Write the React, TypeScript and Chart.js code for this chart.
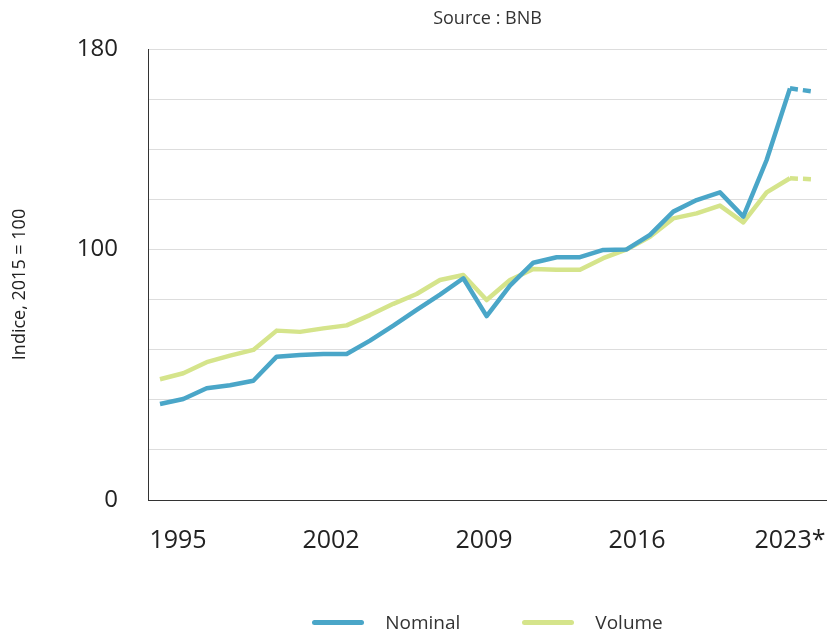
import React, { useEffect, useRef } from "react";
import { Chart, registerables } from "chart.js";

Chart.register(...registerables);

const years = [
  1995, 1996, 1997, 1998, 1999, 2000, 2001, 2002, 2003, 2004,
  2005, 2006, 2007, 2008, 2009, 2010, 2011, 2012, 2013, 2014,
  2015, 2016, 2017, 2018, 2019, 2020, 2021, 2022, 2023,
];
const nominal = [
  38.3, 40.3, 44.6, 45.8, 47.6, 57.2, 57.9, 58.3, 58.3, 63.6,
  69.6, 75.9, 82.0, 88.5, 73.4, 85.6, 94.7, 96.9, 96.9, 99.8,
  100.0, 105.8, 115.1, 119.7, 122.8, 113.1, 135.7, 164.3, 163.0,
];
const volume = [
  48.2, 50.6, 55.0, 57.6, 59.9, 67.6, 67.1, 68.5, 69.7, 73.8,
  78.3, 82.2, 87.8, 89.8, 79.8, 87.8, 92.2, 91.9, 91.9, 96.5,
  100.0, 105.1, 112.4, 114.4, 117.5, 110.8, 122.8, 128.4, 128.0,
];
const seriesNames = ["Nominal", "Volume"];
const seriesColors = ["#4AA6C8", "#D5E48B"];
const xTickLabels = ["1995", "2002", "2009", "2016", "2023*"];
const yTickLabels = [0, 100, 180];
const yGridValues = [0, 20, 40, 60, 80, 100, 120, 140, 160, 180];
const titleText = "Source : BNB";
const yTitle = "Indice, 2015 = 100";

const FONT = "'Open Sans', 'Noto Sans', sans-serif";

const yTitlePlugin = {
  id: "yTitlePlugin",
  afterDraw(chart: any) {
    const { ctx, chartArea } = chart;
    ctx.save();
    ctx.translate(20, (chartArea.top + chartArea.bottom) / 2 + 10);
    ctx.rotate(-Math.PI / 2);
    ctx.textAlign = "center";
    ctx.textBaseline = "middle";
    ctx.fillStyle = "#222";
    ctx.font = `18px ${FONT}`;
    ctx.fillText(yTitle, 0, 0);
    ctx.restore();
  },
};

export default function App() {
  const ref = useRef<HTMLCanvasElement | null>(null);

  useEffect(() => {
    if (!ref.current) return;
    const lastIdx = years.length - 1;
    const dash = (ctx: any) => (ctx.p1DataIndex === lastIdx ? [8, 5] : undefined);
    const series = [nominal, volume];
    const chart = new Chart(ref.current, {
      type: "line",
      data: {
        datasets: series.map((vals, si) => ({
          label: seriesNames[si],
          data: years.map((yr, i) => ({ x: yr, y: vals[i] })),
          borderColor: seriesColors[si],
          backgroundColor: seriesColors[si],
          borderWidth: 4.5,
          pointRadius: 0,
          tension: 0,
          fill: false,
          borderJoinStyle: "round" as const,
          segment: { borderDash: dash },
          order: si === 0 ? 0 : 1,
        })),
      },
      plugins: [yTitlePlugin],
      options: {
        animation: false,
        responsive: false,
        maintainAspectRatio: false,
        layout: { padding: 0 },
        plugins: {
          legend: { display: false },
          tooltip: { enabled: false },
          title: {
            display: true,
            text: titleText,
            fullSize: false,
            color: "#333",
            font: { family: FONT, size: 18, weight: "normal" },
            padding: { top: 8, bottom: 19.4 },
          },
        },
        scales: {
          x: {
            type: "linear",
            min: 1994.486,
            max: 2023.587,
            display: false,
          },
          x2: {
            type: "linear",
            position: "bottom",
            min: -0.196,
            max: 4.242,
            afterBuildTicks: (s: any) => {
              s.ticks = xTickLabels.map((_, i) => ({ value: i }));
            },
            afterFit: (s: any) => {
              s.height = 134;
              s.paddingLeft = 0;
              s.paddingRight = 0;
            },
            ticks: {
              callback: (v: any) => xTickLabels[v as number],
              padding: 26,
              color: "#222",
              font: { family: FONT, size: 25 },
              maxRotation: 0,
              autoSkip: false,
            },
            grid: { display: false, drawTicks: false },
            border: { display: true, color: "#333", width: 1 },
          },
          y: {
            min: 0,
            max: 180,
            afterBuildTicks: (s: any) => {
              s.ticks = yGridValues.map((v) => ({ value: v }));
            },
            afterFit: (s: any) => {
              s.width = 148;
            },
            ticks: {
              callback: (v: any) => (yTickLabels.includes(v as number) ? String(v) : ""),
              padding: 30,
              color: "#222",
              font: { family: FONT, size: 24 },
              autoSkip: false,
            },
            grid: { color: "#DDDDDD", lineWidth: 1, drawTicks: false },
            border: { display: true, color: "#333", width: 1 },
            title: { display: false },
          },
        },
      },
    } as any);
    return () => chart.destroy();
  }, []);

  return (
    <div style={{ position: "absolute", left: 0, top: 0, width: 827, height: 634, background: "#fff" }}>
      <canvas ref={ref} width={827} height={634} style={{ display: "block", width: 827, height: 634 }} />
      <div
        style={{
          position: "absolute",
          left: 148,
          right: 0,
          top: 610,
          display: "flex",
          justifyContent: "center",
          alignItems: "center",
          fontFamily: FONT,
          fontSize: 19,
          color: "#333",
          gap: 62,
        }}
      >
        {seriesNames.map((n, i) => (
          <div key={n} style={{ display: "flex", alignItems: "center" }}>
            <span
              style={{
                display: "inline-block",
                width: 52,
                height: 5,
                borderRadius: 3,
                background: seriesColors[i],
                marginRight: 21,
              }}
            />
            <span style={{ lineHeight: "24px" }}>{n}</span>
          </div>
        ))}
      </div>
    </div>
  );
}
